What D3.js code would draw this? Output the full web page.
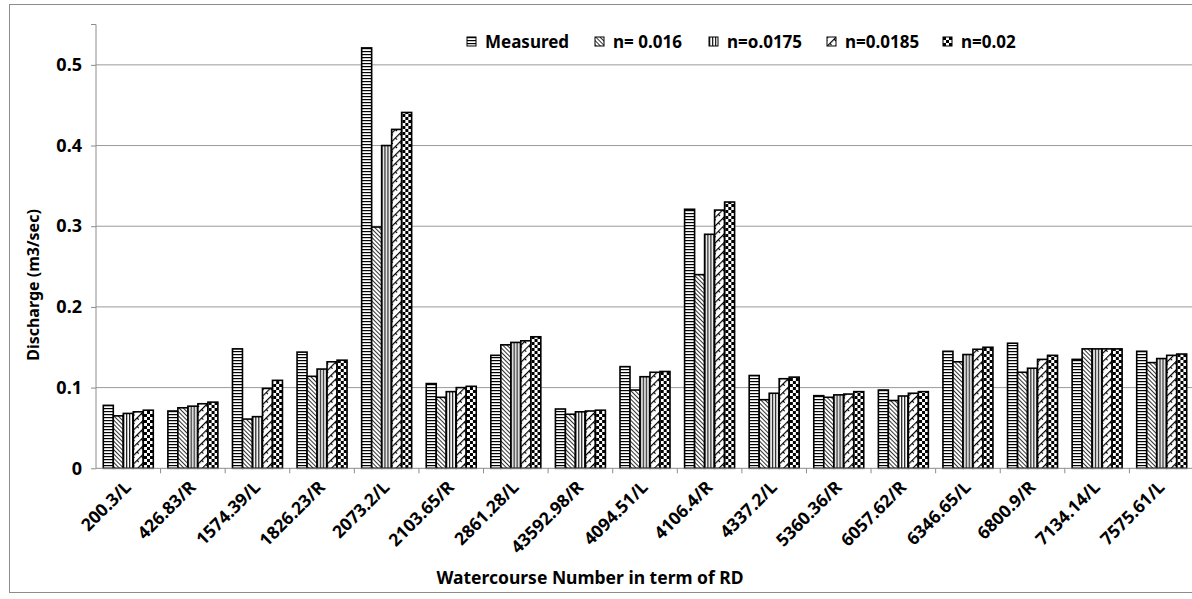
<!DOCTYPE html>
<html>
<head>
<meta charset="utf-8">
<script src="https://cdn.jsdelivr.net/npm/d3@7"></script>
<style>
  body { margin: 0; background: #fff; }
  text { font-family: "Noto Sans", "Open Sans", sans-serif; font-weight: bold; fill: #000; }
</style>
</head>
<body>
<svg id="chart" width="1192" height="599"></svg>
<script>
// categories (watercourse RD) and the five series
const categories = ["200.3/L", "426.83/R", "1574.39/L", "1826.23/R", "2073.2/L", "2103.65/R",
  "2861.28/L", "43592.98/R", "4094.51/L", "4106.4/R", "4337.2/L", "5360.36/R", "6057.62/R",
  "6346.65/L", "6800.9/R", "7134.14/L", "7575.61/L"];
const seriesNames = ["Measured", "n= 0.016", "n=o.0175", "n=0.0185", "n=0.02"];
const measured = [0.078, 0.071, 0.148, 0.144, 0.521, 0.105, 0.140, 0.0735, 0.126, 0.321, 0.115, 0.090, 0.097, 0.145, 0.155, 0.135, 0.145];
const n016 = [0.065, 0.075, 0.061, 0.114, 0.299, 0.088, 0.153, 0.067, 0.097, 0.240, 0.085, 0.088, 0.084, 0.132, 0.119, 0.148, 0.131];
const n0175 = [0.068, 0.077, 0.064, 0.123, 0.400, 0.095, 0.156, 0.070, 0.1135, 0.290, 0.093, 0.091, 0.0896, 0.141, 0.124, 0.148, 0.136];
const n0185 = [0.070, 0.080, 0.099, 0.132, 0.420, 0.100, 0.158, 0.071, 0.119, 0.320, 0.111, 0.092, 0.093, 0.1475, 0.135, 0.148, 0.140];
const n02 = [0.072, 0.082, 0.109, 0.134, 0.441, 0.1016, 0.163, 0.072, 0.120, 0.330, 0.113, 0.095, 0.095, 0.150, 0.140, 0.148, 0.1416];
const yTicks = [0, 0.1, 0.2, 0.3, 0.4, 0.5];

const allSeries = [measured, n016, n0175, n0185, n02];
const patternIds = ["pMeas", "p016", "p0175", "p0185", "p02"];

const svg = d3.select("#chart");

// outer chart frame
svg.append("rect")
  .attr("x", 9.5).attr("y", 4.5)
  .attr("width", 1200).attr("height", 588)
  .attr("fill", "none").attr("stroke", "#8c8c8c");

// fill patterns, roughly like Excel's black & white pattern fills
const defs = svg.append("defs");

const pMeas = defs.append("pattern").attr("id", "pMeas")
  .attr("patternUnits", "userSpaceOnUse").attr("width", 3).attr("height", 3);
pMeas.append("rect").attr("width", 3).attr("height", 3).attr("fill", "#fff");
pMeas.append("rect").attr("y", 0).attr("width", 3).attr("height", 1.2).attr("fill", "#000");

const p016 = defs.append("pattern").attr("id", "p016")
  .attr("patternUnits", "userSpaceOnUse").attr("width", 3).attr("height", 3)
  .attr("patternTransform", "rotate(-45)");
p016.append("rect").attr("width", 3).attr("height", 3).attr("fill", "#fff");
p016.append("rect").attr("width", 1).attr("height", 3).attr("fill", "#333");

const p0175 = defs.append("pattern").attr("id", "p0175")
  .attr("patternUnits", "userSpaceOnUse").attr("width", 3).attr("height", 3);
p0175.append("rect").attr("width", 3).attr("height", 3).attr("fill", "#fff");
p0175.append("rect").attr("width", 1.3).attr("height", 3).attr("fill", "#222");

const p0185 = defs.append("pattern").attr("id", "p0185")
  .attr("patternUnits", "userSpaceOnUse").attr("width", 6).attr("height", 6)
  .attr("patternTransform", "rotate(45)");
p0185.append("rect").attr("width", 6).attr("height", 6).attr("fill", "#fff");
p0185.append("rect").attr("width", 1.2).attr("height", 6).attr("fill", "#000");
p0185.append("rect").attr("x", 1).attr("y", 2).attr("width", 2).attr("height", 1).attr("fill", "#000");

const p02 = defs.append("pattern").attr("id", "p02")
  .attr("patternUnits", "userSpaceOnUse").attr("width", 6).attr("height", 6);
p02.append("rect").attr("width", 6).attr("height", 6).attr("fill", "#fff");
p02.append("rect").attr("width", 3).attr("height", 3).attr("fill", "#000");
p02.append("rect").attr("x", 3).attr("y", 3).attr("width", 3).attr("height", 3).attr("fill", "#000");

// plot area
const plot = { left: 96, right: 1194, top: 24.5, bottom: 468.3 };

const x0 = d3.scaleBand().domain(categories).range([plot.left, plot.right]);
const x1 = d3.scaleBand().domain(d3.range(seriesNames.length))
  .range([x0.bandwidth() * 0.113, x0.bandwidth() * 0.887]);
const y = d3.scaleLinear().domain([0, 0.55]).range([plot.bottom, plot.top]);

// horizontal gridlines
svg.append("g")
  .selectAll("line")
  .data(yTicks.slice(1))
  .enter().append("line")
  .attr("x1", plot.left).attr("x2", plot.right)
  .attr("y1", (d) => y(d)).attr("y2", (d) => y(d))
  .attr("stroke", "#9a9a9a").attr("stroke-width", 1);

// y axis
const yAxis = svg.append("g")
  .attr("transform", `translate(${plot.left},0)`)
  .call(d3.axisLeft(y).tickValues(yTicks).tickSize(5).tickPadding(9)
    .tickFormat((d) => (d === 0 ? "0" : d3.format(".1f")(d))));
yAxis.select(".domain").attr("stroke", "#8c8c8c").attr("d", `M-5,${plot.top}H0V${plot.bottom}`);
yAxis.selectAll(".tick line").attr("stroke", "#8c8c8c");
yAxis.selectAll(".tick text").style("font-size", "18px");

// bars
const groups = svg.append("g")
  .selectAll("g")
  .data(categories)
  .enter().append("g")
  .attr("transform", (d) => `translate(${x0(d)},0)`);

groups.selectAll("rect")
  .data((d, i) => allSeries.map((s, k) => ({ k: k, v: s[i] })))
  .enter().append("rect")
  .attr("x", (d) => x1(d.k))
  .attr("y", (d) => y(d.v))
  .attr("width", x1.bandwidth())
  .attr("height", (d) => y(0) - y(d.v))
  .attr("fill", (d) => `url(#${patternIds[d.k]})`)
  .attr("stroke", "#000")
  .attr("stroke-width", 1.6);

// x axis with ticks between categories
const xAxisG = svg.append("g").attr("transform", `translate(0,${plot.bottom})`);
xAxisG.append("line")
  .attr("x1", plot.left).attr("x2", plot.right)
  .attr("stroke", "#8c8c8c");
xAxisG.selectAll(".xtick")
  .data(categories)
  .enter().append("line")
  .attr("class", "xtick")
  .attr("x1", (d) => x0(d) + x0.bandwidth()).attr("x2", (d) => x0(d) + x0.bandwidth())
  .attr("y1", 0).attr("y2", 5)
  .attr("stroke", "#8c8c8c");
xAxisG.selectAll(".xlabel")
  .data(categories)
  .enter().append("text")
  .attr("class", "xlabel")
  .attr("transform", (d) => `translate(${x0(d) + x0.bandwidth() / 2 + 4},${20})rotate(-45)`)
  .attr("text-anchor", "end")
  .style("font-size", "17.5px")
  .text((d) => d);

// axis titles
svg.append("text")
  .attr("transform", `translate(39,${285})rotate(-90)`)
  .attr("text-anchor", "middle")
  .style("font-size", "16px")
  .text("Discharge (m3/sec)");

svg.append("text")
  .attr("x", 590).attr("y", 584)
  .attr("text-anchor", "middle")
  .style("font-size", "17.5px")
  .text("Watercourse Number in term of RD");

// legend
const legendX = [467, 595, 709, 827, 943];
const legend = svg.append("g")
  .selectAll("g")
  .data(seriesNames)
  .enter().append("g")
  .attr("transform", (d, i) => `translate(${legendX[i]},${37})`);
legend.append("rect")
  .attr("width", 9).attr("height", 9)
  .attr("fill", (d, i) => `url(#${patternIds[i]})`)
  .attr("stroke", "#000").attr("stroke-width", 1);
legend.append("text")
  .attr("x", 18).attr("y", 10.5)
  .style("font-size", "17px")
  .text((d) => d);
</script>
</body>
</html>
